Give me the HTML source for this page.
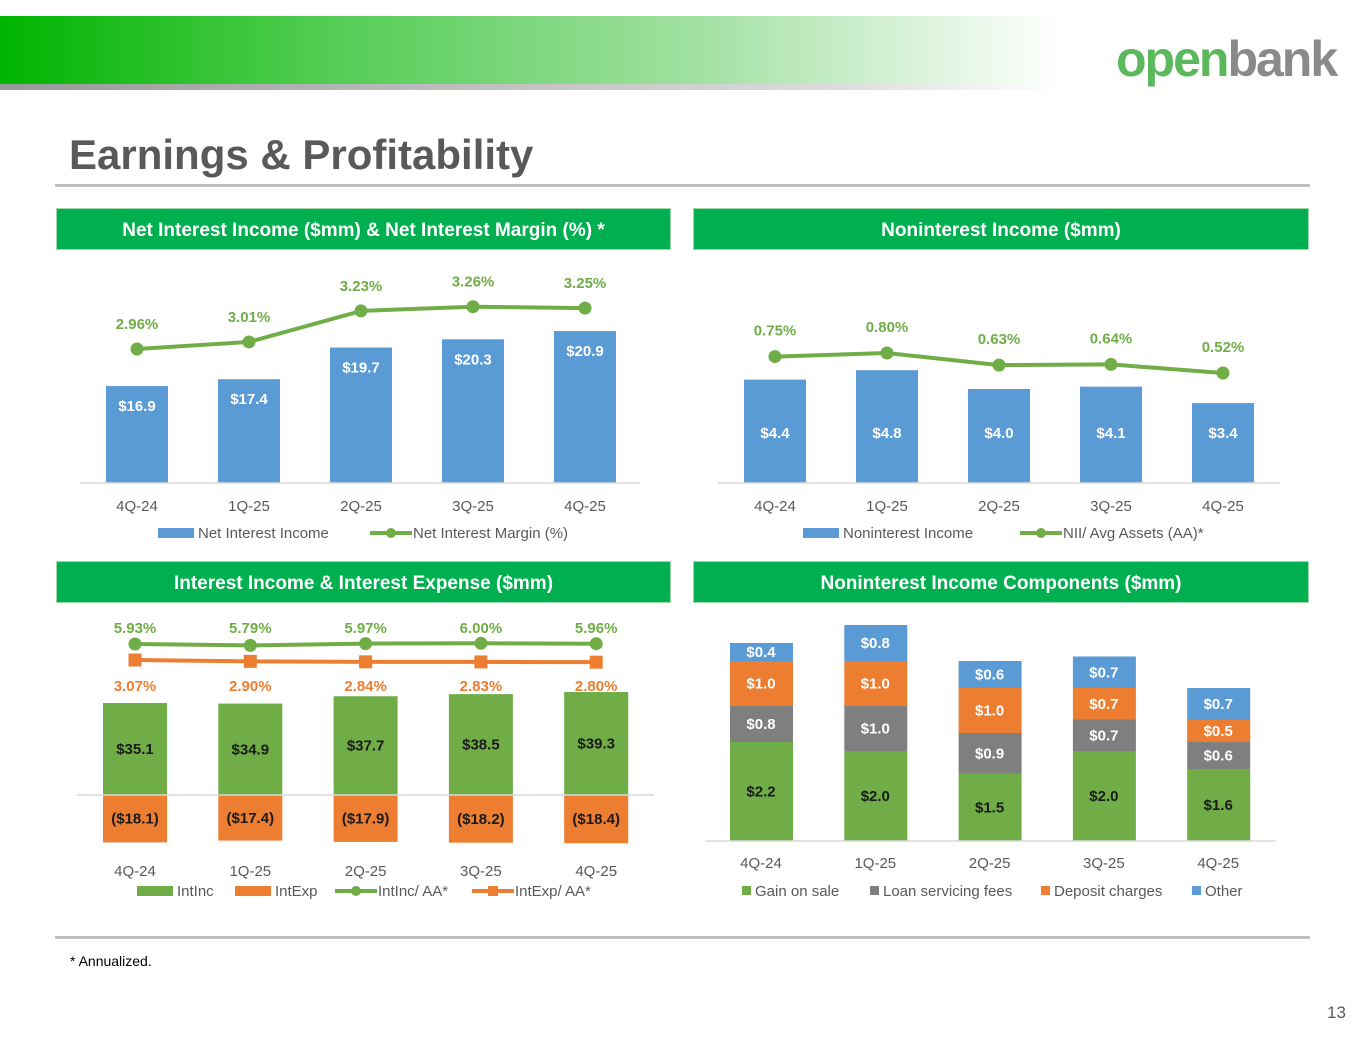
<!DOCTYPE html>
<html><head><meta charset="utf-8"><style>
body{margin:0;width:1365px;height:1055px;position:relative;background:#fff;font-family:"Liberation Sans",sans-serif;overflow:hidden}
.abs{position:absolute}
.hdr{position:absolute;height:40px;background:#00b050;color:#fff;font-weight:bold;font-size:19px;line-height:44px;text-align:center;box-shadow:0 0 0 1px #9fd9a9}
svg{position:absolute;left:0;top:0}
svg text{font-family:"Liberation Sans",sans-serif}
</style></head><body>
<div class="abs" style="left:0;top:16px;width:1060px;height:68px;background:linear-gradient(90deg,#00b400 0%,#50cc50 30%,#a0e0a0 65%,#fff 100%)"></div>
<div class="abs" style="left:0;top:84px;width:1060px;height:6px;background:linear-gradient(90deg,#999,#ddd 80%,#fff)"></div>
<div class="abs" style="left:1116px;top:30px;font-size:50px;font-weight:bold;letter-spacing:-2px"><span style="color:#5cb85c">open</span><span style="color:#8a8a8a">bank</span></div>
<div class="abs" style="left:69px;top:131px;font-size:42px;font-weight:bold;color:#595959">Earnings &amp; Profitability</div>
<div class="abs" style="left:55px;top:184px;width:1255px;height:3px;background:#bfbfbf"></div>
<div class="hdr" style="left:57px;top:209px;width:613px">Net Interest Income ($mm) &amp; Net Interest Margin (%) *</div>
<div class="hdr" style="left:694px;top:209px;width:614px">Noninterest Income ($mm)</div>
<div class="hdr" style="left:57px;top:562px;width:613px">Interest Income &amp; Interest Expense ($mm)</div>
<div class="hdr" style="left:694px;top:562px;width:614px">Noninterest Income Components ($mm)</div>
<div class="abs" style="left:55px;top:936px;width:1255px;height:3px;background:#bfbfbf"></div>
<div class="abs" style="left:70px;top:953px;font-size:14px;color:#000">* Annualized.</div>
<div class="abs" style="left:1327px;top:1003px;font-size:17px;color:#595959">13</div>
<svg id="s" width="1365" height="1055"></svg>
<script>
const quarters=["4Q-24","1Q-25","2Q-25","3Q-25","4Q-25"];
const niiValues=[16.9,17.4,19.7,20.3,20.9];
const nimValues=[2.96,3.01,3.23,3.26,3.25];
const nonintValues=[4.4,4.8,4.0,4.1,3.4];
const niiAAValues=[0.75,0.80,0.63,0.64,0.52];
const intIncValues=[35.1,34.9,37.7,38.5,39.3];
const intExpValues=[-18.1,-17.4,-17.9,-18.2,-18.4];
const intIncAAValues=[5.93,5.79,5.97,6.00,5.96];
const intExpAAValues=[3.07,2.90,2.84,2.83,2.80];
const gainOnSale=[2.2,2.0,1.5,2.0,1.6];
const loanServicing=[0.8,1.0,0.9,0.7,0.6];
const depositCharges=[1.0,1.0,1.0,0.7,0.5];
const otherIncome=[0.4,0.8,0.6,0.7,0.7];

const S=document.getElementById('s');const NS='http://www.w3.org/2000/svg';
function el(t,a,txt){const e=document.createElementNS(NS,t);for(const k in a)e.setAttribute(k,a[k]);if(txt!==undefined)e.textContent=txt;S.appendChild(e);return e;}
function txt(x,y,s,fill,size,bold,name){const e=el('text',{x:x,y:y,'text-anchor':'middle',fill:fill,'font-size':size,'font-weight':bold?'bold':'normal'},s);

return e;}
const BLUE='#5b9bd5',GREEN='#70ad47',ORANGE='#ed7d31',GRAY='#7f7f7f',DARK='#595959';
const fmt=v=>v<0?'($'+Math.abs(v).toFixed(1)+')':'$'+v.toFixed(1);

function xs(x0,step){return i=>x0+i*step;}
function axisLine(x1,x2,y,name){const e=el('line',{x1:x1,x2:x2,y1:y,y2:y,stroke:'#d9d9d9','stroke-width':1.5});

}
function series(pts,color,marker,name){
  const l=el('polyline',{points:pts.map(p=>p.join(',')).join(' '),fill:'none',stroke:color,'stroke-width':4});
  
  
  pts.forEach((p,i)=>{let m;
    if(marker==='c')m=el('circle',{cx:p[0],cy:p[1],r:6.5,fill:color});
    else m=el('rect',{x:p[0]-6.5,y:p[1]-6.5,width:13,height:13,fill:color});
    
    });
}
function legendBox(x,y,color,label,name){const r=el('rect',{x:x,y:y-8,width:36,height:10,fill:color});


const t=el('text',{x:x+40,y:y+2,fill:DARK,'font-size':15},label);

}
function legendLine(x,y,color,marker,label,name){el('line',{x1:x,x2:x+42,y1:y-3,y2:y-3,stroke:color,'stroke-width':4});
let m=marker==='c'?el('circle',{cx:x+21,cy:y-3,r:5,fill:color}):el('rect',{x:x+16,y:y-8,width:10,height:10,fill:color});


const t=el('text',{x:x+43,y:y+2,fill:DARK,'font-size':15},label);

}

// Chart 1
(function(){const X=xs(137,112),base=483,yB=v=>base-(v-9.85)*13.75,yL=v=>349-(v-2.96)*141;
niiValues.forEach((v,i)=>{const r=el('rect',{x:X(i)-31,y:yB(v),width:62,height:base-yB(v),fill:BLUE});


txt(X(i),yB(v)+25,fmt(v),'#fff',15,true,'nii-bar-label');});
axisLine(80,640,base,'nii-x-axis');
series(nimValues.map((v,i)=>[X(i),yL(v)]),GREEN,'c','nim');
nimValues.forEach((v,i)=>txt(X(i),yL(v)-20,v.toFixed(2)+'%',GREEN,15,true,'nim-label'));
quarters.forEach((q,i)=>txt(X(i),511,q,DARK,15,false,'nii-x-tick'));
legendBox(158,536,BLUE,'Net Interest Income','legend-nii');legendLine(370,536,GREEN,'c','Net Interest Margin (%)','legend-nim');})();

// Chart 2
(function(){const X=xs(775,112),base=483,yB=v=>base-v*23.5,yL=v=>353-(v-0.8)*71.4;
nonintValues.forEach((v,i)=>{const r=el('rect',{x:X(i)-31,y:yB(v),width:62,height:base-yB(v),fill:BLUE});


txt(X(i),base-45,fmt(v),'#fff',15,true,'nonint-bar-label');});
axisLine(718,1280,base,'nonint-x-axis');
series(niiAAValues.map((v,i)=>[X(i),yL(v)]),GREEN,'c','nii-aa');
niiAAValues.forEach((v,i)=>txt(X(i),yL(v)-21,v.toFixed(2)+'%',GREEN,15,true,'nii-aa-label'));
quarters.forEach((q,i)=>txt(X(i),511,q,DARK,15,false,'nonint-x-tick'));
legendBox(803,536,BLUE,'Noninterest Income','legend-nonint');legendLine(1020,536,GREEN,'c','NII/ Avg Assets (AA)*','legend-nii-aa');})();

// Chart 3
(function(){const X=xs(135,115.3),base=795,yB=v=>base-v*2.62,yI=v=>644-(v-5.93)*10,yE=v=>660-(v-3.07)*8;
intIncValues.forEach((v,i)=>{const r=el('rect',{x:X(i)-32,y:yB(v),width:64,height:base-yB(v),fill:GREEN});


txt(X(i),(yB(v)+base)/2+5,fmt(v),'#1a1a1a',15,true,'intinc-bar-label');});
intExpValues.forEach((v,i)=>{const r=el('rect',{x:X(i)-32,y:base,width:64,height:yB(v)-base,fill:ORANGE});


txt(X(i),(yB(v)+base)/2+5,fmt(v),'#1a1a1a',15,true,'intexp-bar-label');});
axisLine(77,654,base,'intinc-x-axis');
series(intIncAAValues.map((v,i)=>[X(i),yI(v)]),GREEN,'c','intinc-aa');
series(intExpAAValues.map((v,i)=>[X(i),yE(v)]),ORANGE,'s','intexp-aa');
intIncAAValues.forEach((v,i)=>txt(X(i),633,v.toFixed(2)+'%',GREEN,15,true,'intinc-aa-label'));
intExpAAValues.forEach((v,i)=>txt(X(i),691,v.toFixed(2)+'%',ORANGE,15,true,'intexp-aa-label'));
quarters.forEach((q,i)=>txt(X(i),876,q,DARK,15,false,'intinc-x-tick'));
legendBox(137,894,GREEN,'IntInc','legend-intinc');legendBox(235,894,ORANGE,'IntExp','legend-intexp');
legendLine(335,894,GREEN,'c','IntInc/ AA*','legend-intinc-aa');legendLine(472,894,ORANGE,'s','IntExp/ AA*','legend-intexp-aa');})();

// Chart 4
(function(){const X=xs(761,114.3),base=841,k=45;
const layers=[[gainOnSale,GREEN,'gain'],[loanServicing,GRAY,'loan'],[depositCharges,ORANGE,'deposit'],[otherIncome,BLUE,'other']];
quarters.forEach((q,i)=>{let y=base;layers.forEach(([arr,c,n])=>{const h=arr[i]*k;
const r=el('rect',{x:X(i)-31,y:y-h,width:63,height:h,fill:c});


txt(X(i),y-h/2+5,fmt(arr[i]),n==='gain'?'#1a1a1a':'#fff',15,true,n+'-label');y-=h;});});
axisLine(705,1276,base,'components-x-axis');
quarters.forEach((q,i)=>txt(X(i),868,q,DARK,15,false,'components-x-tick'));
[[742,GREEN,'Gain on sale','legend-gain'],[870,GRAY,'Loan servicing fees','legend-loan'],[1041,ORANGE,'Deposit charges','legend-deposit'],[1192,BLUE,'Other','legend-other']].forEach(([x,c,l,n])=>{
const r=el('rect',{x:x,y:886,width:9,height:9,fill:c});


const t=el('text',{x:x+13,y:896,fill:DARK,'font-size':15},l);

});})();
</script>
</body></html>
